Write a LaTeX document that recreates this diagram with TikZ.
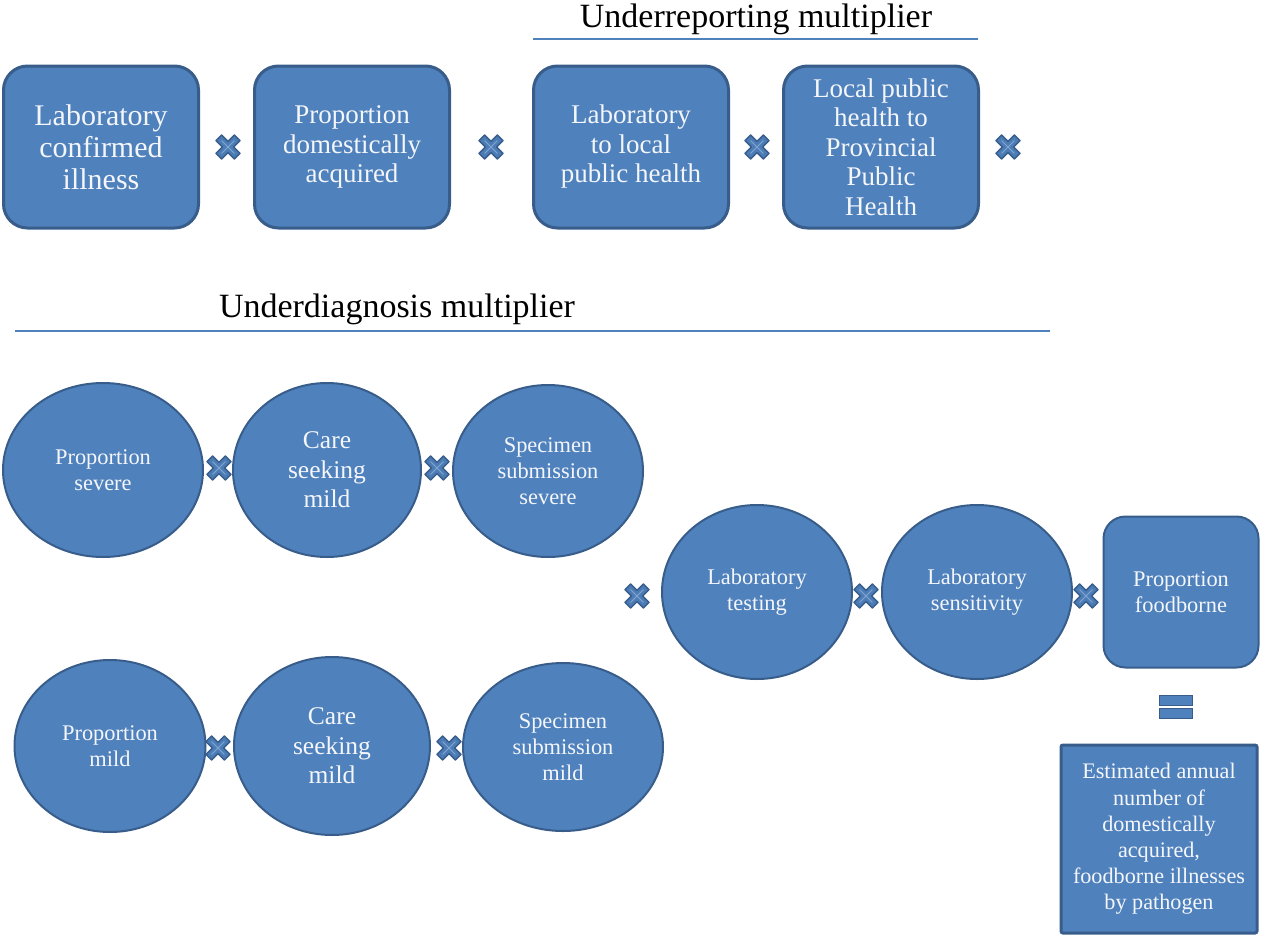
\documentclass[tikz,border=0pt]{standalone}
\usepackage{fontspec}
\setmainfont{Liberation Serif}
\usetikzlibrary{shapes.geometric}
\definecolor{boxblue}{HTML}{4F81BD}
\definecolor{boxedge}{HTML}{385D8A}
\definecolor{boxtext}{HTML}{F4F6FA}
\begin{document}
\begin{tikzpicture}[x=1pt, y=-1pt,
  box/.style={draw=boxedge, line width=3pt, fill=boxblue, rounded corners=24pt, minimum width=195pt, minimum height=162pt, align=center, text=boxtext, inner sep=2pt, font=\fontsize{27}{29.5}\selectfont},
  oval/.style={ellipse, draw=boxedge, line width=2pt, fill=boxblue, inner sep=0pt, align=center, text=boxtext, font=\fontsize{22.4}{26}\selectfont},
  roundbox/.style={draw=boxedge, line width=2pt, fill=boxblue, rounded corners=22pt, minimum width=155pt, minimum height=151pt, align=center, text=boxtext, inner sep=2pt, font=\fontsize{22.4}{26}\selectfont},
  resultbox/.style={draw=boxedge, line width=3pt, fill=boxblue, rounded corners=2pt, minimum width=196pt, minimum height=188pt, align=center, text=boxtext, inner sep=2pt, font=\fontsize{22.2}{26.2}\selectfont},
  heading/.style={font=\fontsize{34}{38}\selectfont, inner sep=0pt},
  rule/.style={draw=boxblue, line width=2pt},
  mult/.style={minimum size=32pt, inner sep=0pt, path picture={
    \begin{scope}[shift={(path picture bounding box.center)}]
    \filldraw[fill=boxblue!85!boxedge, draw=boxedge, line width=1.5pt, line join=round]
      (6.36,-12.02) -- (12.02,-6.36) -- (5.66,0) -- (12.02,6.36) -- (6.36,12.02) -- (0,5.66)
      -- (-6.36,12.02) -- (-12.02,6.36) -- (-5.66,0) -- (-12.02,-6.36) -- (-6.36,-12.02) -- (0,-5.66) -- cycle;
    \draw[boxblue!70!white, line width=0.8pt] (-6.4,-6.4) -- (6.4,6.4) (6.4,-6.4) -- (-6.4,6.4);
    \end{scope}}},
  eqbar/.style={draw=boxedge, fill=boxblue, line width=1.5pt, minimum width=33pt, minimum height=10pt, inner sep=0pt}
]
\useasboundingbox (0,0) rectangle (1261,937);

% underreporting
\node[heading] (urtitle) at (756,19) {Underreporting multiplier};
\coordinate (url) at (533,39);
\coordinate (urr) at (978,39);
\draw[rule] (url) -- (urr);

\node[box, font=\fontsize{30}{32}\selectfont] (labconf) at (101,147) {Laboratory\\confirmed\\illness};
\node[box] (domestic) at (352,147) {Proportion\\domestically\\acquired};
\node[box] (labtolocal) at (631,147) {Laboratory\\to local\\public health};
\node[box] (localtoprov) at (881,147) {Local public\\health to\\Provincial\\Public\\Health};

\node[mult] (m1) at (228,147) {};
\node[mult] (m2) at (491,147) {};
\node[mult] (m3) at (757,147) {};
\node[mult] (m4) at (1008,147) {};

% underdiagnosis
\node[heading] (udtitle) at (397,309) {Underdiagnosis multiplier};
\coordinate (udl) at (15,331);
\coordinate (udr) at (1050,331);
\draw[rule] (udl) -- (udr);

\node[oval, minimum width=200pt, minimum height=174pt] (propsevere) at (103,470) {Proportion\\severe};
\node[oval, minimum width=188pt, minimum height=174pt, font=\fontsize{25.5}{29.5}\selectfont] (caresevere) at (327,470) {Care\\seeking\\mild};
\node[oval, minimum width=190pt, minimum height=172pt] (specsevere) at (548,471) {Specimen\\submission\\severe};

\node[mult] (m5) at (219,468) {};
\node[mult] (m6) at (437,468) {};

\node[oval, minimum width=191pt, minimum height=172pt] (propmild) at (110,746) {Proportion\\mild};
\node[oval, minimum width=196pt, minimum height=178pt, font=\fontsize{25.5}{29.5}\selectfont] (caremild) at (332,746) {Care\\seeking\\mild};
\node[oval, minimum width=200pt, minimum height=168pt] (specmild) at (563,747) {Specimen\\submission\\mild};

\node[mult] (m7) at (218,748) {};
\node[mult] (m8) at (449,748) {};

\node[mult] (m9) at (637,596) {};
\node[oval, minimum width=190pt, minimum height=174pt] (labtest) at (757,592) {Laboratory\\testing};
\node[mult] (m10) at (866,596) {};
\node[oval, minimum width=190pt, minimum height=174pt] (labsens) at (977,592) {Laboratory\\sensitivity};
\node[mult] (m11) at (1086,596) {};
\node[roundbox] (foodborne) at (1181,592) {Proportion\\foodborne};

\node[eqbar] (eqtop) at (1176,700.5) {};
\node[eqbar] (eqbot) at (1176,713.5) {};

\node[resultbox] (estimate) at (1159,839) {Estimated annual\\number of\\domestically\\acquired,\\foodborne illnesses\\by pathogen};

\end{tikzpicture}
\end{document}
